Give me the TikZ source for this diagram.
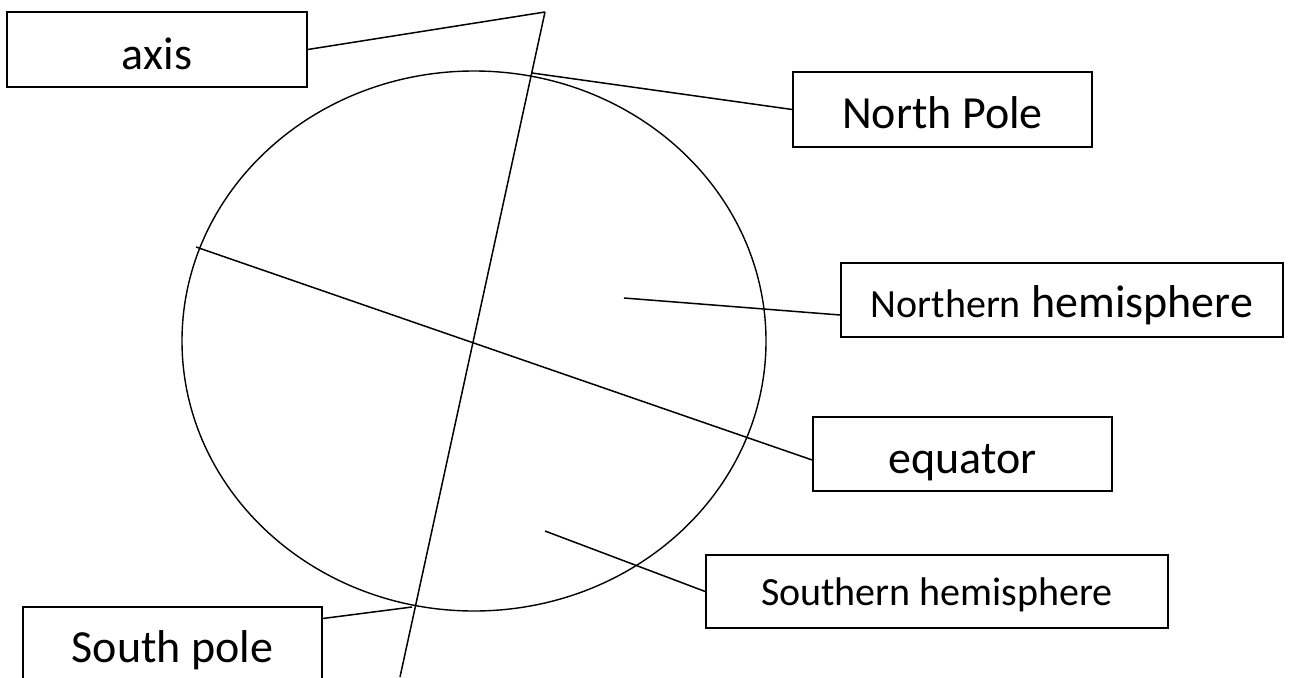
\documentclass[tikz,border=0pt]{standalone}
\usepackage{fontspec}
\setmainfont{Carlito}
\begin{document}
\begin{tikzpicture}[x=1pt,y=-1pt,
  lbl/.style={draw, line width=1.6pt, inner sep=0pt, text depth=0pt, align=center},
  big/.style={font=\fontsize{46}{50}\selectfont},
  conn/.style={line width=1.5pt}]
\useasboundingbox (0,0) rectangle (1289,677);
\fill[white] (0,0) rectangle (1289,677);
% globe
\draw[line width=1.4pt] (474,341) ellipse [x radius=292pt, y radius=270pt];
% free ends
\coordinate (axtop) at (545,12);
\coordinate (axbot) at (400,677);
\coordinate (npt) at (532,73);
\coordinate (nhp) at (624,298);
\coordinate (eqw) at (196,247);
\coordinate (shp) at (545,531);
\coordinate (spt) at (412,607);
% labels
\node[lbl, big, text height=41pt, minimum width=300pt, minimum height=75pt] (axis) at (157,49.5) {axis};
\node[lbl, big, text height=37pt, minimum width=299pt, minimum height=75pt] (np) at (942.5,109.5) {North Pole};
\node[lbl, big, text height=34pt, minimum width=442pt, minimum height=74pt] (nh) at (1062,300) {{\fontsize{40}{48}\selectfont Northern} hemisphere};
\node[lbl, big, text height=38pt, minimum width=299pt, minimum height=74pt] (eq) at (962.5,454) {equator};
\node[lbl, font=\fontsize{40}{48}\selectfont, text height=27pt, minimum width=462pt, minimum height=73pt] (sh) at (937,591.5) {Southern hemisphere};
\node[lbl, big, text height=35pt, minimum width=299pt, minimum height=75pt] (sp) at (172.5,644.5) {South pole};
% connectors
\draw[conn] (axtop) -- (axbot);
\draw[conn] (axis.east) -- (axtop);
\draw[conn] (npt) -- (np.west);
\draw[conn] (nhp) -- ([yshift=-15pt]nh.west);
\draw[conn] (eqw) -- ([yshift=-6pt]eq.west);
\draw[conn] (shp) -- (sh.west);
\draw[conn] (spt) -- ([yshift=26pt]sp.east);
\end{tikzpicture}
\end{document}
